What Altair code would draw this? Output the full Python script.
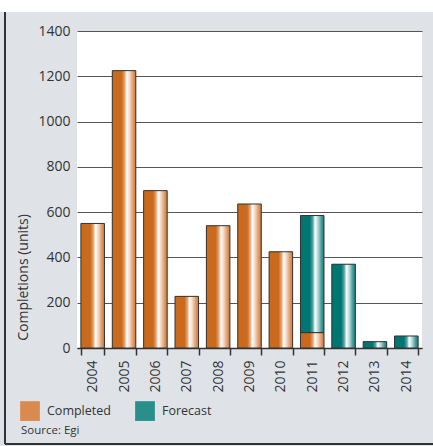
import altair as alt
import pandas as pd

years = ["2004", "2005", "2006", "2007", "2008", "2009", "2010", "2011", "2012", "2013", "2014"]
completed = [550, 1225, 695, 228, 540, 636, 425, 68, 0, 0, 0]
forecast = [0, 0, 0, 0, 0, 0, 0, 517, 370, 28, 53]
y_ticks = [0, 200, 400, 600, 800, 1000, 1200, 1400]
source_text = "Source: Egi"

rows = []
for yr, c, f in zip(years, completed, forecast):
    if c > 0:
        rows.append({"year": yr, "series": "Completed", "y0": 0, "y1": c})
    if f > 0:
        rows.append({"year": yr, "series": "Forecast", "y0": c, "y1": c + f})
df = pd.DataFrame(rows)

FONT = "Open Sans"
TXT = "#333333"
ORANGE = "#c96a1c"
TEAL = "#007672"

grad_orange = alt.Gradient(
    gradient="linear", x1=0, x2=1, y1=0, y2=0,
    stops=[
        alt.GradientStop(color=ORANGE, offset=0),
        alt.GradientStop(color=ORANGE, offset=0.4),
        alt.GradientStop(color="#e6a677", offset=0.53),
        alt.GradientStop(color="#ffffff", offset=0.62),
        alt.GradientStop(color="#f3d6bf", offset=0.74),
        alt.GradientStop(color="#dd9560", offset=0.9),
        alt.GradientStop(color="#cf7a3a", offset=1),
    ],
)
grad_teal = alt.Gradient(
    gradient="linear", x1=0, x2=1, y1=0, y2=0,
    stops=[
        alt.GradientStop(color=TEAL, offset=0),
        alt.GradientStop(color=TEAL, offset=0.4),
        alt.GradientStop(color="#5aa8a5", offset=0.53),
        alt.GradientStop(color="#ffffff", offset=0.62),
        alt.GradientStop(color="#b5dad9", offset=0.74),
        alt.GradientStop(color="#3f9895", offset=0.9),
        alt.GradientStop(color="#1a807c", offset=1),
    ],
)

x_enc = alt.X(
    "year:N", sort=years, title=None,
    scale=alt.Scale(paddingInner=0.25, paddingOuter=0.125),
    axis=alt.Axis(
        labelAngle=270, labelAlign="right", labelBaseline="middle",
        labelFont=FONT, labelFontSize=14, labelColor=TXT, labelPadding=5,
        tickBand="extent", tickSize=7, tickColor="#333333", tickWidth=1.5,
        domainColor="#333333", domainWidth=1.5, grid=False,
    ),
)
y_enc = alt.Y(
    "y0:Q", scale=alt.Scale(domain=[0, 1400], nice=False),
    axis=alt.Axis(
        values=y_ticks, format="d", grid=True, gridColor="#555555", gridWidth=1,
        domain=False, ticks=False, labelPadding=7,
        labelFont=FONT, labelFontSize=14, labelColor=TXT,
        title="Completions (units)", titleFont=FONT, titleFontSize=14,
        titleFontWeight="normal", titleColor=TXT,
        titleX=-54, titleY=246, titleAngle=270, titleAlign="center",
        titleBaseline="middle",
    ),
)

base = alt.Chart(df).encode(x=x_enc, y=y_enc, y2="y1:Q")

legend_layer = base.mark_bar().encode(
    fill=alt.Fill(
        "series:N",
        scale=alt.Scale(domain=["Completed", "Forecast"], range=["#d98a4f", "#2a8f8b"]),
        legend=alt.Legend(
            orient="none", legendX=-57, legendY=370, direction="horizontal",
            title=None, symbolType="square", symbolSize=390, symbolStrokeWidth=0,
            labelFont=FONT, labelFontSize=12.5, labelColor=TXT, labelOffset=7,
            columnPadding=24,
        ),
    )
)
comp_layer = base.mark_bar(stroke="#333333", strokeWidth=1).encode(
    fill=alt.value(grad_orange)
).transform_filter(alt.datum.series == "Completed")
fore_layer = base.mark_bar(stroke="#333333", strokeWidth=1).encode(
    fill=alt.value(grad_teal)
).transform_filter(alt.datum.series == "Forecast")

one = pd.DataFrame({"t": [source_text]})
top_strip = alt.Chart(one).mark_rect(fill="white").encode(
    x=alt.value(-77), x2=alt.value(356), y=alt.value(-31), y2=alt.value(-19)
)
left_border = alt.Chart(one).mark_rule(color="#333333", strokeWidth=2).encode(
    x=alt.value(-72), y=alt.value(-19), y2=alt.value(413)
)
bottom_border = alt.Chart(one).mark_rule(color="#333333", strokeWidth=2).encode(
    x=alt.value(-72), x2=alt.value(356), y=alt.value(413)
)
source = alt.Chart(one).mark_text(
    align="left", baseline="middle", font=FONT, fontSize=11.5, color=TXT
).encode(text="t:N", x=alt.value(-56), y=alt.value(400))

chart = alt.layer(
    legend_layer, comp_layer, fore_layer, top_strip, left_border, bottom_border, source
).properties(
    width=345, height=317,
    autosize=alt.AutoSizeParams(type="none"),
    padding={"left": 77, "top": 31, "right": 11, "bottom": 98},
    background="#dfe3e8",
).configure_view(fill="white", stroke=None)

chart.save("out.html", embed_options={"renderer": "svg", "actions": False})
